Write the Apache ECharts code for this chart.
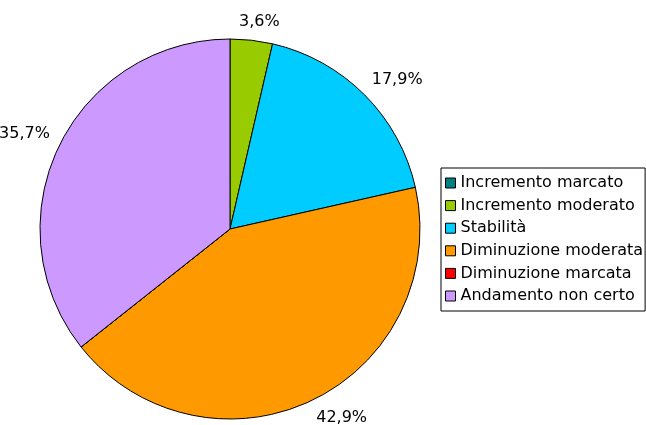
<!DOCTYPE html>
<html>
<head>
<meta charset="utf-8">
<script src="https://cdn.jsdelivr.net/npm/echarts@6/dist/echarts.min.js"></script>
<style>
  html, body { margin: 0; padding: 0; background: #fff; }
  #chart { width: 646px; height: 425px; }
</style>
</head>
<body>
<div id="chart"></div>
<script>
  // categories and values (percent of answers)
  const categories = ['Incremento marcato', 'Incremento moderato', 'Stabilità', 'Diminuzione moderata', 'Diminuzione marcata', 'Andamento non certo'];
  const values = [0, 3.6, 17.9, 42.9, 0, 35.7];
  const colors = ['#008080', '#99CC00', '#00CCFF', '#FF9900', '#FF0000', '#CC99FF'];

  const chart = echarts.init(document.getElementById('chart'));
  const font = 'DejaVu Sans, Verdana, sans-serif';
  const cx = 230, cy = 229, R = 190;
  const total = values.reduce((a, b) => a + b, 0);
  const clamp = v => Math.max(-1, Math.min(1, v));

  // anchor each label just outside the slice middle, box pushed away from the pie
  function placeLabel(params) {
    let cum = 0;
    for (let i = 0; i < params.dataIndex; i++) cum += values[i];
    const mid = (90 - (cum + values[params.dataIndex] / 2) / total * 360) * Math.PI / 180;
    const c = Math.cos(mid), s = Math.sin(mid);
    const w = params.labelRect.width, h = params.labelRect.height;
    const r = R + 10;
    return {
      x: cx + c * r + clamp(3 * c) * w / 2,
      y: cy - s * r - clamp(3 * s) * h / 2,
      align: 'center',
      verticalAlign: 'middle'
    };
  }

  const option = {
    animation: false,
    color: colors,
    legend: {
      orient: 'vertical',
      left: 441,
      top: 168,
      padding: [7, 2, 7, 4],
      borderColor: '#000',
      borderWidth: 1,
      itemWidth: 10,
      itemHeight: 10,
      itemGap: 6.6,
      icon: 'rect',
      selectedMode: false,
      itemStyle: { borderColor: '#000', borderWidth: 1 },
      textStyle: { fontFamily: font, fontSize: 16, color: '#000', lineHeight: 16, padding: [0, 0, 0, 0] },
      data: categories
    },
    series: [{
      type: 'pie',
      center: [cx, cy],
      radius: R,
      startAngle: 90,
      clockwise: true,
      minShowLabelAngle: 0.1,
      itemStyle: { borderColor: '#000', borderWidth: 1 },
      label: {
        position: 'outside',
        fontFamily: font,
        fontSize: 16,
        color: '#000',
        overflow: 'none',
        formatter: p => p.value ? p.value.toFixed(1).replace('.', ',') + '%' : ''
      },
      labelLine: { show: false, length: 10, length2: 0 },
      labelLayout: placeLabel,
      emphasis: { disabled: true },
      data: categories.map((c, i) => ({ name: c, value: values[i] }))
    }]
  };

  chart.setOption(option);
</script>
</body>
</html>
